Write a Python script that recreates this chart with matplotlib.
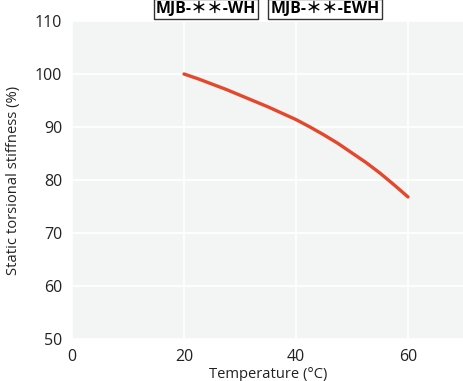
import matplotlib
matplotlib.use("Agg")
import matplotlib.pyplot as plt

plt.rcParams['font.family'] = ['Open Sans', 'Noto Sans CJK JP', 'DejaVu Sans']

temps = [20, 22.5, 25, 27.5, 30, 32.5, 35, 37.5, 40, 42.5, 45, 47.5, 50, 52.5, 55, 57.5, 60]
stiffness = [100, 99.1, 98.1, 97.1, 96.0, 94.9, 93.8, 92.6, 91.4, 90.0, 88.5, 86.9, 85.1, 83.3, 81.3, 79.1, 76.8]
xticks = [0, 20, 40, 60]
yticks = [50, 60, 70, 80, 90, 100, 110]

fig = plt.figure(figsize=(4.64, 3.81), dpi=100)
ax = fig.add_axes([72/464, 1-339/381, 1-72/464, (339-21)/381])
ax.set_facecolor('#f3f4f4')
ax.plot(temps, stiffness, color='#e4472b', linewidth=2.4, solid_capstyle='round')
ax.set_xlim(0, 70)
ax.set_ylim(50, 110)
ax.set_xticks(xticks)
ax.set_yticks(yticks)
ax.grid(True, color='white', linewidth=1.2)
ax.set_axisbelow(True)
for s in ax.spines.values():
    s.set_visible(False)
ax.tick_params(length=0, labelsize=11.5, colors='#222222', pad=7)
ax.set_xlabel('Temperature (°C)', fontsize=10.6, color='#222222', labelpad=2)
ax.set_ylabel('Static torsional stiffness (%)', fontsize=10.6, color='#222222', labelpad=10)

box = dict(boxstyle='square,pad=0.12', facecolor='white', edgecolor='#333333', linewidth=1)
fig.text(206/464, 1-9/381, 'MJB-＊＊-WH', ha='center', va='center', fontsize=11.4,
         fontweight='bold', bbox=box)
fig.text(325/464, 1-9/381, 'MJB-＊＊-EWH', ha='center', va='center', fontsize=11.4,
         fontweight='bold', bbox=box)

fig.savefig('out.png', dpi=100)
